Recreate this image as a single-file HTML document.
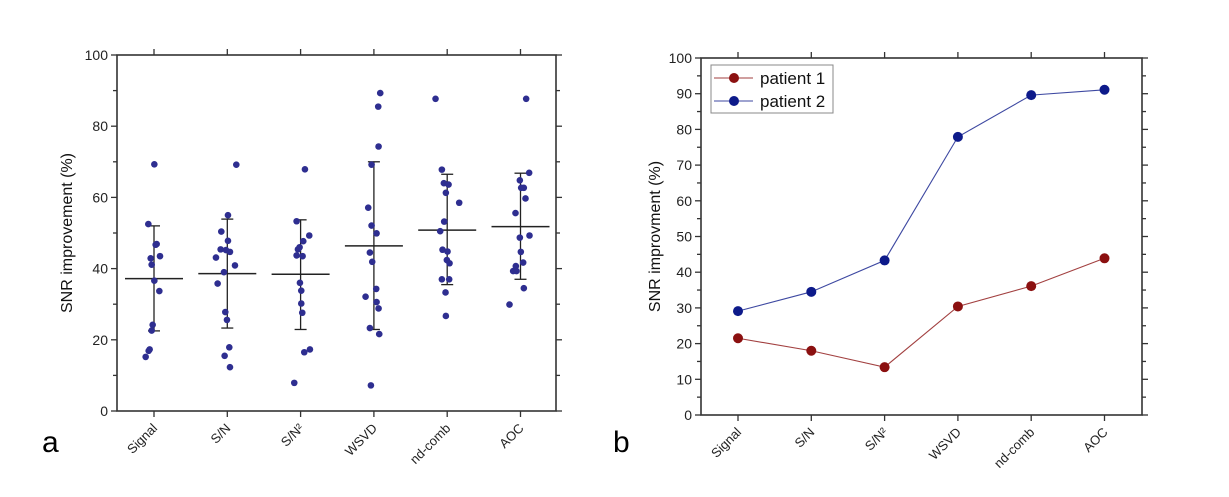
<!DOCTYPE html>
<html><head><meta charset="utf-8"><style>
body{margin:0;background:#fff;}
svg{display:block;font-family:"Liberation Sans",Arial,sans-serif;}
</style></head><body>
<svg id="s" width="1229" height="497" viewBox="0 0 1229 497" xmlns="http://www.w3.org/2000/svg"></svg>
<script>
const categories=["Signal","S/N","S/N\u00B2","WSVD","nd-comb","AOC"];
const scatterValues=[
[69.3,52.5,46.9,46.7,43.5,42.9,41.1,36.6,33.7,24.2,22.6,17.3,16.9,15.2],
[69.2,55,50.4,47.8,45.4,45.2,44.7,43.1,40.9,39,35.8,27.8,25.6,17.9,15.5,12.3],
[67.9,53.3,49.3,47.7,46,45.4,43.7,43.5,36,33.8,30.2,27.6,17.3,16.5,7.9],
[89.3,85.5,74.3,69.2,57.1,52.1,49.9,44.5,41.9,34.3,32.1,30.6,28.8,23.3,21.6,7.2],
[87.7,67.8,64,63.6,61.3,58.5,53.2,50.5,45.3,44.8,42.4,41.5,37,37,33.3,26.7],
[87.7,66.9,64.8,62.7,62.7,59.7,55.6,49.3,48.7,44.7,41.7,40.7,39.3,39.3,34.5,29.9]];
const scatterJitter=[
[1,-17,8,5,18,-10,-7,1,16,-4,-7,-13,-16,-25],
[27,2,-18,2,-20,-4,8,-34,23,-10,-29,-6,-1,6,-8,8],
[13,-12,26,8,-3,-8,-12,6,-2,2,2,5,28,11,-19],
[19,13,14,-7,-17,-7,8,-12,-5,7,-25,8,14,-12,16,-9],
[-35,-16,-10,4,-4,36,-9,-21,-14,1,-1,7,-16,6,-5,-4],
[17,26,-2,2,10,15,-15,27,-2,1,8,-14,-22,-12,10,-33]];
const groupMeans=[37.2,38.6,38.4,46.4,50.8,51.8];
const groupLow=[22.5,23.3,22.9,22.9,35.5,37];
const groupHigh=[52,53.9,53.7,70,66.5,66.8];
const patient1=[21.5,18,13.4,30.4,36.1,43.9];
const patient2=[29.1,34.5,43.3,77.9,89.6,91.1];
const leftTicks=[0,20,40,60,80,100];
const rightTicks=[0,10,20,30,40,50,60,70,80,90,100];

const S=document.getElementById('s');const NS="http://www.w3.org/2000/svg";
function el(t,a,txt){const e=document.createElementNS(NS,t);for(const k in a)e.setAttribute(k,a[k]);if(txt!==undefined)e.textContent=txt;S.appendChild(e);return e;}

function axes(L,R,T,B,ticks,minorStep,ylab,ylx,prefix){
  const y=v=>B-(v/100)*(B-T);
  const x=i=>L+37+i*73.3;
  const f=el('rect',{x:L,y:T,width:R-L,height:B-T,fill:'none',stroke:'#333','stroke-width':1.6});
  
  for(let v=0;v<=100;v+=minorStep){const maj=ticks.includes(v);const l=maj?6:4;
    el('line',{x1:L-l,x2:L,y1:y(v),y2:y(v),stroke:'#333','stroke-width':1.3});
    el('line',{x1:R,x2:R+l,y1:y(v),y2:y(v),stroke:'#333','stroke-width':1.3});}
  ticks.forEach(v=>{const t=el('text',{x:L-9,y:y(v)+5,'text-anchor':'end','font-size':14,fill:'#222'},v);
    });
  categories.forEach((c,i)=>{
    el('line',{x1:x(i),x2:x(i),y1:B,y2:B+6,stroke:'#333','stroke-width':1.3});
    el('line',{x1:x(i),x2:x(i),y1:T-6,y2:T,stroke:'#333','stroke-width':1.3});
    const t=el('text',{x:x(i)+4,y:B+18,'text-anchor':'end','font-size':13,fill:'#222',transform:`rotate(-45 ${x(i)+4} ${B+18})`},c);
    });
  const yl=el('text',{x:ylx,y:(T+B)/2,'text-anchor':'middle','font-size':16,fill:'#111',transform:`rotate(-90 ${ylx} ${(T+B)/2})`},ylab);
  
  return {x,y};
}
// Left chart
const A=axes(117,556,55,411,leftTicks,10,"SNR improvement (%)",72,'left');
scatterValues.forEach((g,i)=>{
  const cx=A.x(i);
  const e1=el('line',{x1:cx,x2:cx,y1:A.y(groupLow[i]),y2:A.y(groupHigh[i]),stroke:'#222','stroke-width':1.3});
  
  el('line',{x1:cx-6,x2:cx+6,y1:A.y(groupLow[i]),y2:A.y(groupLow[i]),stroke:'#222','stroke-width':1.3});
  el('line',{x1:cx-6,x2:cx+6,y1:A.y(groupHigh[i]),y2:A.y(groupHigh[i]),stroke:'#222','stroke-width':1.3});
  const m=el('line',{x1:cx-29,x2:cx+29,y1:A.y(groupMeans[i]),y2:A.y(groupMeans[i]),stroke:'#222','stroke-width':1.5});
  
  g.forEach((v,j)=>{const p=el('circle',{cx:cx+scatterJitter[i][j]/3,cy:A.y(v),r:3.3,fill:'#2e2e90'});
    });
});
const la=el('text',{x:42,y:452,'font-size':30,fill:'#000'},'a');

// Right chart
const B=axes(701,1142,58,415,rightTicks,5,"SNR improvment (%)",660,'right');
function series(vals,color,name){
  const pl=el('polyline',{points:vals.map((v,i)=>B.x(i)+','+B.y(v)).join(' '),fill:'none',stroke:color,'stroke-width':1.1,opacity:0.8});
  
  vals.forEach((v,i)=>{const c=el('circle',{cx:B.x(i),cy:B.y(v),r:5,fill:color});
    });
}
series(patient1,'#8b1010','patient-1');
series(patient2,'#0d1a8a','patient-2');
const lg=el('rect',{x:711,y:65,width:122,height:48,fill:'#fff',stroke:'#888','stroke-width':1});

[['patient 1','#8b1010',78],['patient 2','#0d1a8a',101]].forEach(([n,c,yy])=>{
  el('line',{x1:714,x2:753,y1:yy,y2:yy,stroke:c,'stroke-width':1,opacity:0.8});
  el('circle',{cx:734,cy:yy,r:5,fill:c});
  const t=el('text',{x:760,y:yy+6,'font-size':17,fill:'#111'},n);
  
});
const lb=el('text',{x:613,y:452,'font-size':30,fill:'#000'},'b');

</script>
</body></html>
